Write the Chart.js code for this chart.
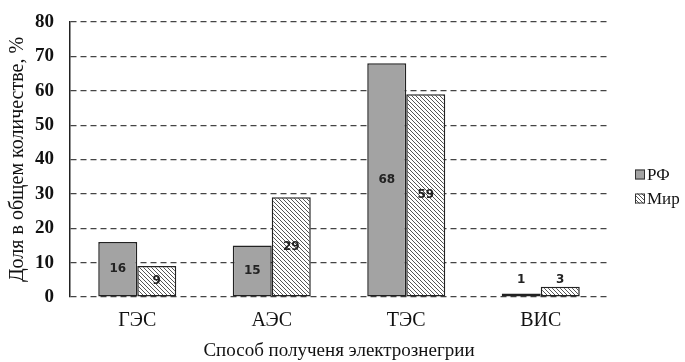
<!DOCTYPE html>
<html>
<head>
<meta charset="utf-8">
<script src="https://cdn.jsdelivr.net/npm/chart.js@4.4.1/dist/chart.umd.min.js"></script>
<style>
    body { margin: 0; background: #fff; }
    #wrap { width: 685px; height: 362px; }
</style>
</head>
<body>
<div id="wrap"><canvas id="chart" width="685" height="362"></canvas></div>
<script>
const categories = ['ГЭС', 'АЭС', 'ТЭС', 'ВИС'];
const rfValues = [16, 15, 68, 1];
const worldValues = [9, 29, 59, 3];
const seriesNames = ['РФ', 'Мир'];
const yTicks = [0, 10, 20, 30, 40, 50, 60, 70, 80];

const SERIF = '"Liberation Serif", "Times New Roman", serif';

function makeHatch() {
    const c = document.createElement('canvas');
    c.width = 4;
    c.height = 4;
    const g = c.getContext('2d');
    g.fillStyle = '#ffffff';
    g.fillRect(0, 0, 4, 4);
    g.strokeStyle = '#555555';
    g.lineWidth = 1;
    g.beginPath();
    g.moveTo(-1, -1); g.lineTo(5, 5);
    g.moveTo(-1, 3); g.lineTo(1, 5);
    g.moveTo(3, -1); g.lineTo(5, 1);
    g.stroke();
    return g.createPattern(c, 'repeat');
}

const hatch = makeHatch();
const rfFill = '#a3a3a3';

// value labels inside the bars (above them when the bar is too low)
const valueLabels = {
    id: 'valueLabels',
    afterDatasetsDraw(chart) {
        const ctx = chart.ctx;
        const yScale = chart.scales.y;
        ctx.save();
        ctx.font = 'bold 12px "DejaVu Sans", sans-serif';
        ctx.fillStyle = '#222';
        ctx.textAlign = 'center';
        ctx.textBaseline = 'middle';
        chart.data.datasets.forEach((ds, i) => {
            const meta = chart.getDatasetMeta(i);
            meta.data.forEach((bar, j) => {
                const v = ds.data[j];
                let y = (bar.y + bar.base) / 2;
                if (v < 5) {
                    y = yScale.getPixelForValue(5);
                }
                ctx.fillText(String(v), bar.x, y);
            });
        });
        ctx.restore();
    }
};

// legend on the right, next to the plot
const sideLegend = {
    id: 'sideLegend',
    afterDraw(chart) {
        const ctx = chart.ctx;
        const area = chart.chartArea;
        const x = area.right + 27;
        const mid = (area.top + area.bottom) / 2;
        const rows = [mid + 15, mid + 39];
        ctx.save();
        chart.data.datasets.forEach((ds, i) => {
            const y = rows[i];
            ctx.fillStyle = ds.backgroundColor;
            ctx.fillRect(x, y - 5, 10, 10);
            ctx.strokeStyle = '#333';
            ctx.lineWidth = 1;
            ctx.strokeRect(x + 0.5, y - 4.5, 9, 9);
            ctx.fillStyle = '#111';
            ctx.font = '17px "Liberation Serif", serif';
            ctx.textAlign = 'left';
            ctx.textBaseline = 'middle';
            ctx.fillText(ds.label, x + 12, y + 1);
        });
        ctx.restore();
    }
};

const ctx = document.getElementById('chart').getContext('2d');
const chart = new Chart(ctx, {
    type: 'bar',
    data: {
        labels: categories,
        datasets: [{
            label: seriesNames[0],
            data: rfValues,
            backgroundColor: rfFill,
            borderColor: '#222',
            borderWidth: 1.5,
            borderSkipped: false
        }, {
            label: seriesNames[1],
            data: worldValues,
            backgroundColor: hatch,
            borderColor: '#222',
            borderWidth: 1.5,
            borderSkipped: false
        }]
    },
    options: {
        responsive: false,
        animation: false,
        events: [],
        layout: {
            padding: { top: 22, right: 77, left: 0, bottom: 0 }
        },
        datasets: {
            bar: {
                categoryPercentage: 0.58,
                barPercentage: 1
            }
        },
        plugins: {
            legend: { display: false },
            tooltip: { enabled: false },
            title: { display: false }
        },
        scales: {
            x: {
                grid: { display: false },
                border: { display: false },
                ticks: {
                    color: '#111',
                    padding: 4,
                    font: { family: SERIF, size: 20 }
                },
                title: {
                    display: true,
                    text: 'Способ полученя электрознегрии',
                    color: '#111',
                    font: { family: SERIF, size: 19 },
                    padding: { top: 12, bottom: 0 }
                },
                afterFit(scale) {
                    scale.height = 65;
                }
            },
            y: {
                min: 0,
                max: 80,
                afterBuildTicks(scale) {
                    scale.ticks = yTicks.map(v => ({ value: v }));
                },
                grid: {
                    color: '#444',
                    lineWidth: 1.2,
                    drawTicks: false
                },
                border: {
                    display: true,
                    color: '#222',
                    width: 1.5,
                    dash: [6, 4]
                },
                ticks: {
                    color: '#111',
                    padding: 16,
                    font: { family: SERIF, size: 19, weight: 'bold' }
                },
                title: {
                    display: true,
                    text: 'Доля в общем количестве, %',
                    color: '#111',
                    font: { family: SERIF, size: 20 },
                    padding: { top: 6, bottom: 6 }
                },
                afterFit(scale) {
                    scale.width = 70;
                    scale.paddingTop = 0;
                    scale.paddingBottom = 0;
                }
            }
        }
    },
    plugins: [valueLabels, sideLegend]
});
</script>
</body>
</html>
